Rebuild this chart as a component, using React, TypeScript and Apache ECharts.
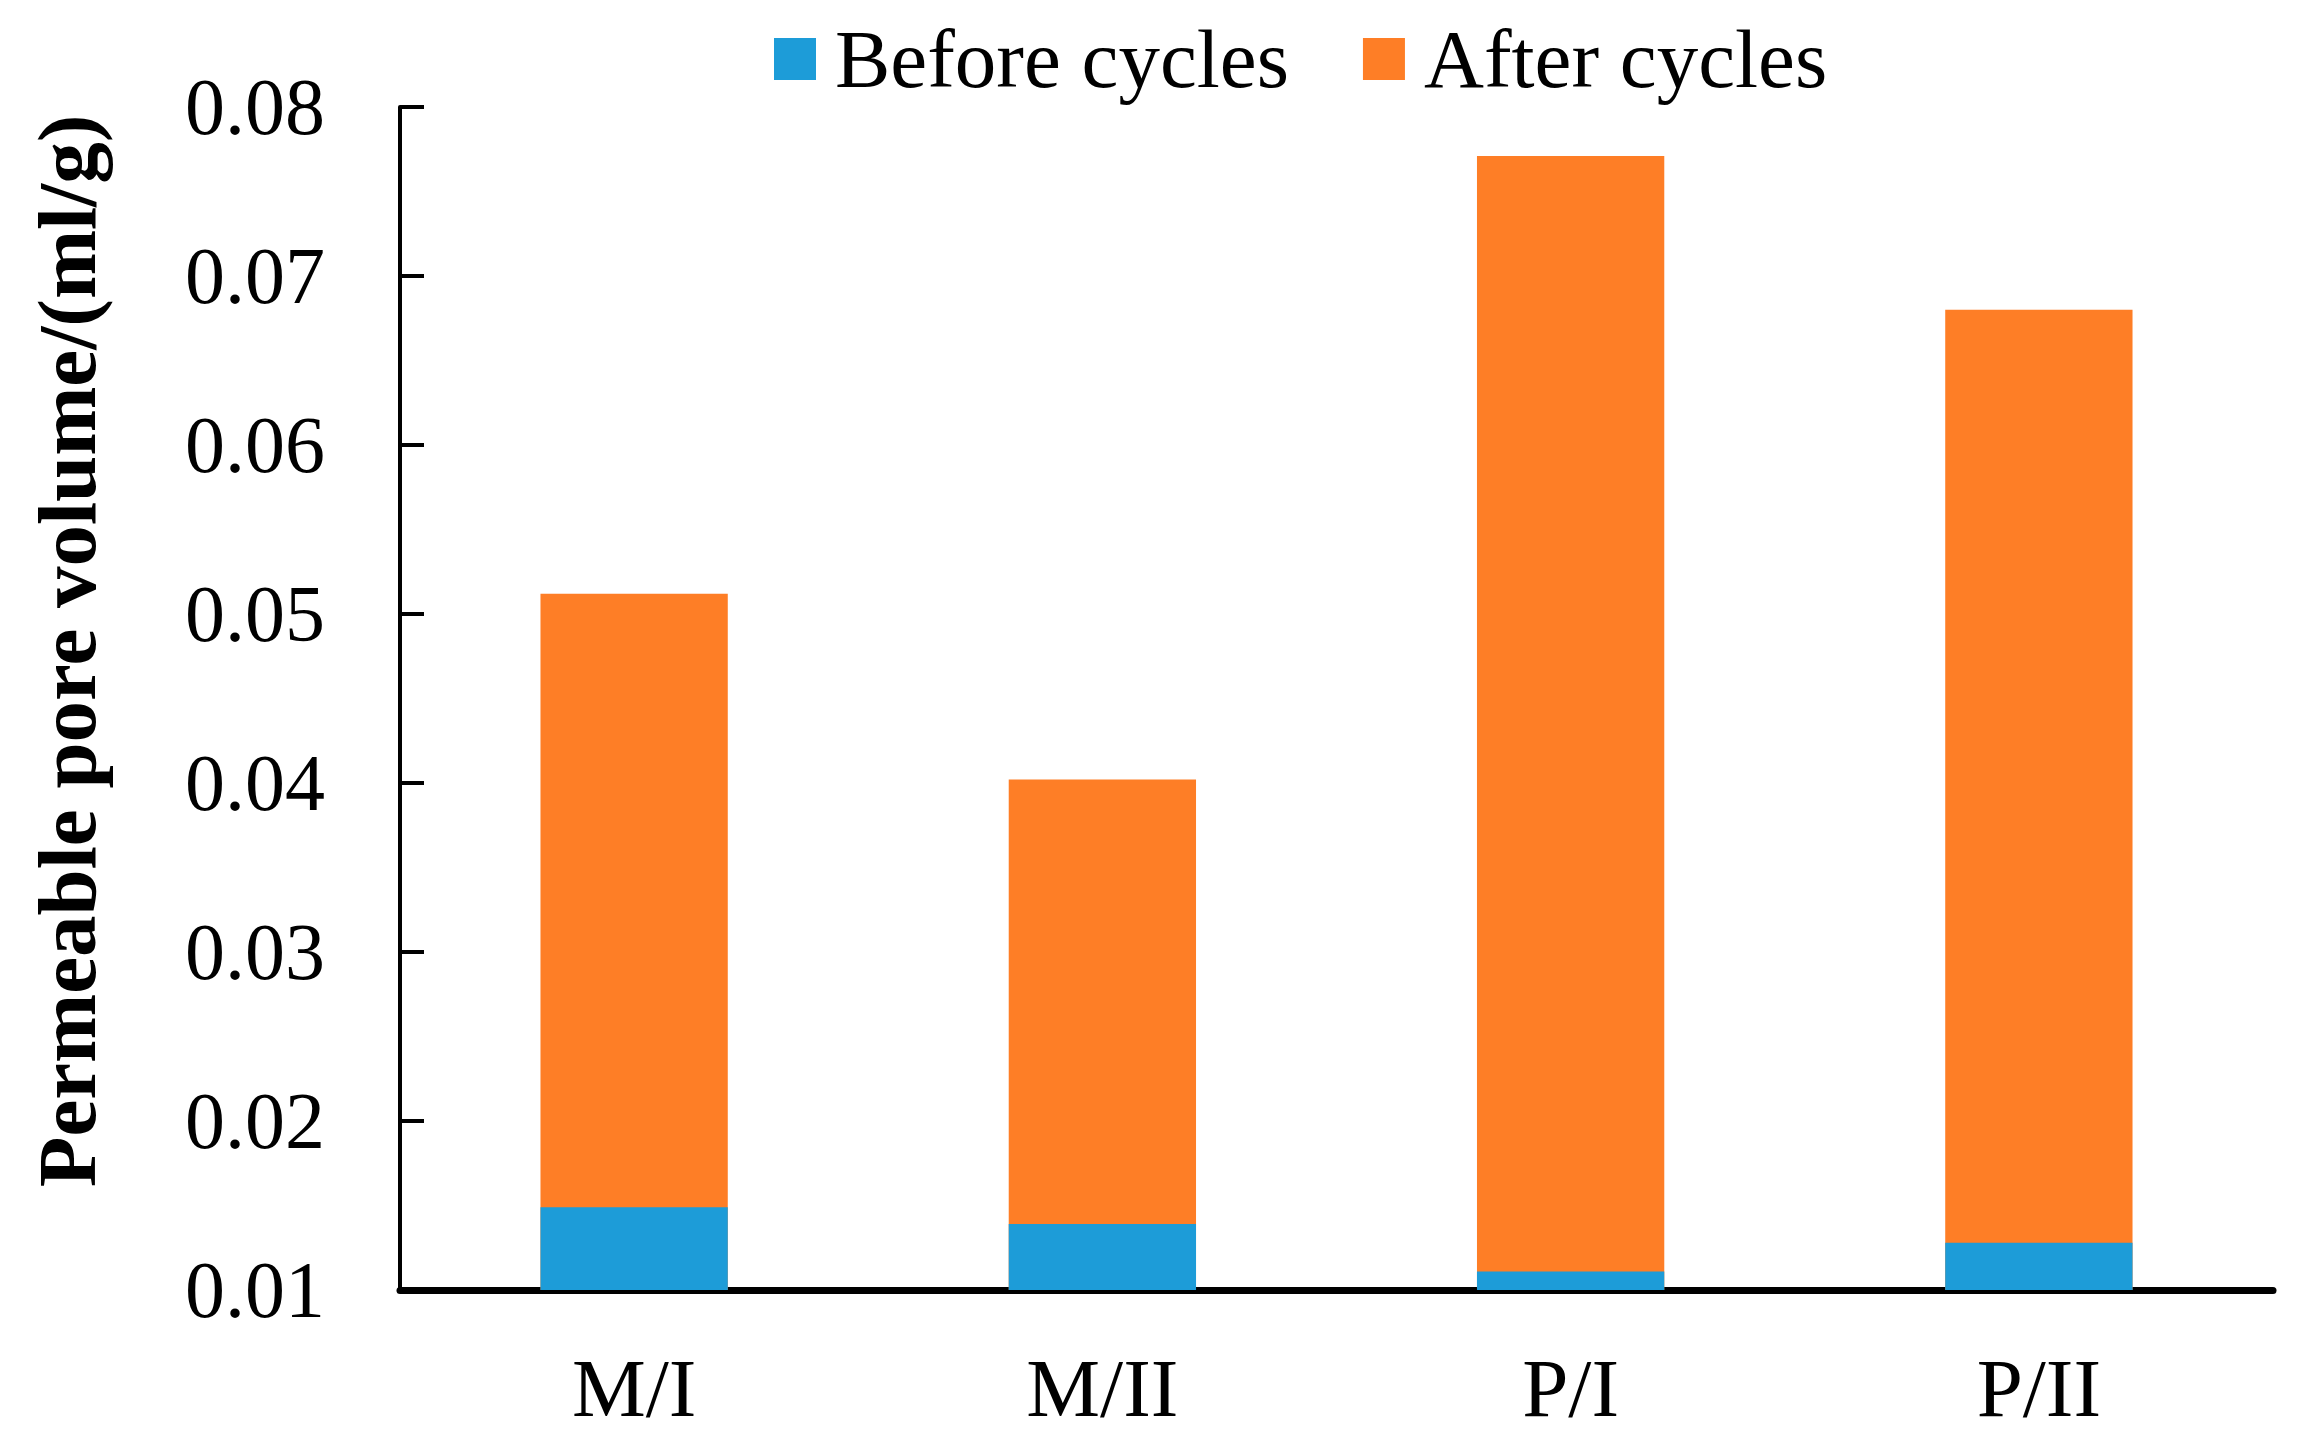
import React, { useEffect, useRef } from "react";
import * as echarts from "echarts";

const categories = ["M/I", "M/II", "P/I", "P/II"];
const beforeCycles = [0.0149, 0.0139, 0.0111, 0.0128];
const afterCycles = [0.0512, 0.0402, 0.0771, 0.068];
const yTicks = { min: 0.01, max: 0.08, interval: 0.01 };
const seriesNames = ["Before cycles", "After cycles"];
const yTitle = "Permeable pore volume/(ml/g)";

const FONT = '"Liberation Serif", "Times New Roman", serif';
const BLUE = "#1D9CD8";
const ORANGE = "#FE7E26";

export default function App() {
  const ref = useRef<HTMLDivElement>(null);
  useEffect(() => {
    document.body.style.margin = "0";
    const chart = echarts.init(ref.current!, null, { renderer: "svg" });
    chart.setOption({
      animation: false,
      backgroundColor: "#ffffff",
      textStyle: { fontFamily: FONT },
      legend: {
        data: seriesNames,
        left: 774,
        top: 17,
        padding: 0,
        itemWidth: 42,
        itemHeight: 42,
        itemGap: 74,
        icon: "rect",
        textStyle: {
          fontFamily: FONT,
          fontSize: 83,
          color: "#000",
          lineHeight: 84,
          padding: [0, 0, 0, 14],
        },
      },
      grid: { left: 400, right: 36, top: 107, bottom: 165, containLabel: false },
      xAxis: {
        type: "category",
        data: categories,
        axisLine: { show: true, lineStyle: { color: "#000", width: 7 } },
        axisTick: { show: false },
        axisLabel: { fontFamily: FONT, fontSize: 83, color: "#000", margin: 56 },
        splitLine: { show: false },
      },
      yAxis: {
        type: "value",
        min: yTicks.min,
        max: yTicks.max,
        interval: yTicks.interval,
        axisLine: { show: true, lineStyle: { color: "#000", width: 4 } },
        axisTick: { show: true, inside: true, length: 24, lineStyle: { color: "#000", width: 4 } },
        axisLabel: {
          fontFamily: FONT,
          fontSize: 80,
          color: "#000",
          margin: 75,
          formatter: (v: number) => v.toFixed(2),
        },
        splitLine: { show: false },
      },
      graphic: [
        {
          type: "text",
          x: 67,
          y: 651,
          rotation: Math.PI / 2,
          style: {
            text: yTitle,
            fontFamily: FONT,
            fontSize: 83,
            fontWeight: "bold",
            fill: "#000",
            textAlign: "center",
            textVerticalAlign: "middle",
          },
        },
      ],
      series: [
        {
          name: seriesNames[1],
          type: "bar",
          data: afterCycles,
          barWidth: "40%",
          barGap: "-100%",
          itemStyle: { color: ORANGE },
        },
        {
          name: seriesNames[0],
          type: "bar",
          data: beforeCycles,
          barWidth: "40%",
          barGap: "-100%",
          itemStyle: { color: BLUE },
        },
      ],
    });
    return () => chart.dispose();
  }, []);
  return <div ref={ref} style={{ width: 2309, height: 1455 }} />;
}
